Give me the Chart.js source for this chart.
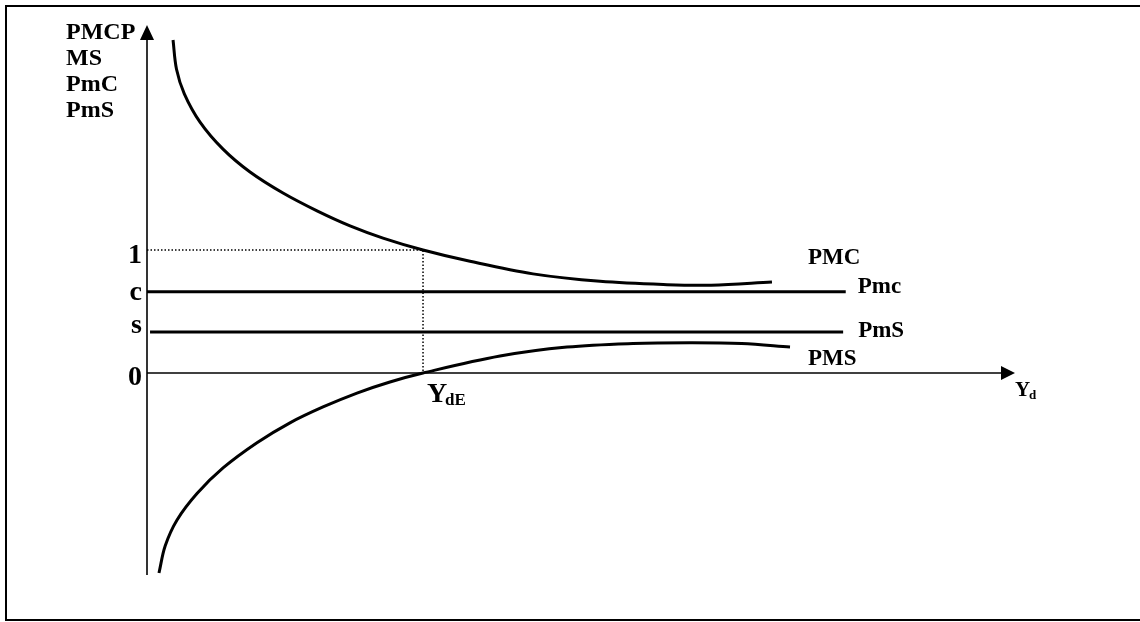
<!DOCTYPE html>
<html>
<head>
<meta charset="utf-8">
<script src="https://cdn.jsdelivr.net/npm/chart.js@4.4.1/dist/chart.umd.min.js"></script>
<style>
  html, body { margin: 0; padding: 0; background: #fff; }
  #wrap { width: 1140px; height: 622px; }
</style>
</head>
<body>
<div id="wrap"><canvas id="chart" width="1140" height="622"></canvas></div>
<script>
// values (x: disposable income, 0..100; y: propensity)
const pmcX = [3.0, 3.4, 4.3, 6.11, 8.76, 11.87, 15.67, 19.59, 23.39, 27.19, 31.8, 37.21, 44.47, 52.19, 59.91, 65.0, 72.0];
const pmcY = [2.707, 2.47, 2.27, 2.04, 1.82, 1.634, 1.463, 1.318, 1.196, 1.097, 1.0, 0.908, 0.806, 0.745, 0.718, 0.714, 0.740];

const pmsX = [1.38, 2.1, 3.46, 5.76, 8.76, 12.67, 16.47, 20.28, 24.19, 27.99, 31.8, 40.67, 48.39, 55.99, 62.5, 68.5, 74.08];
const pmsY = [-1.626, -1.405, -1.195, -0.98, -0.772, -0.567, -0.405, -0.276, -0.163, -0.073, 0, 0.138, 0.211, 0.240, 0.246, 0.240, 0.211];

const cValue = 0.66;       // Pmc
const sValue = 0.333;      // PmS
const pmcLineX = [0, 80.5];
const pmsLineX = [0.35, 80.2];
const ydE = 31.8;          // where PMC = 1 and PMS = 0

const yTickValues = [1, cValue, sValue, 0];
const yTickLabels = ['1', 'c', 's', '0'];
const yTitleLines = ['PMCP', 'MS', 'PmC', 'PmS'];

const xMin = 0, xMax = 100;
const yMax = 2.8293, yMin = -1.6423;

const toPoints = (xs, ys) => xs.map((x, i) => ({ x: x, y: ys[i] }));

const FONT = '"Liberation Serif", "Times New Roman", serif';

// frame, axes with arrow heads, and all the text
const drawingPlugin = {
    id: 'drawing',
    beforeDraw(chart) {
        const ctx = chart.ctx;
        ctx.save();
        ctx.fillStyle = '#fff';
        ctx.fillRect(0, 0, chart.width, chart.height);
        ctx.strokeStyle = '#000';
        ctx.lineWidth = 2;
        ctx.strokeRect(6, 6, chart.width + 4, chart.height - 8);
        ctx.restore();
    },
    beforeDatasetsDraw(chart) {
        const ctx = chart.ctx;
        const x = chart.scales.x, y = chart.scales.y;
        const x0 = x.getPixelForValue(0);
        const y0 = y.getPixelForValue(0);
        const top = y.getPixelForValue(yMax);
        const bottom = y.getPixelForValue(yMin);
        const right = x.getPixelForValue(xMax);

        ctx.save();
        ctx.strokeStyle = '#000';
        ctx.fillStyle = '#000';
        ctx.lineWidth = 1.6;

        // y axis
        ctx.beginPath();
        ctx.moveTo(x0, bottom);
        ctx.lineTo(x0, top + 12);
        ctx.stroke();
        ctx.beginPath();
        ctx.moveTo(x0, top);
        ctx.lineTo(x0 - 7, top + 15);
        ctx.lineTo(x0 + 7, top + 15);
        ctx.closePath();
        ctx.fill();

        // x axis
        ctx.beginPath();
        ctx.moveTo(x0, y0);
        ctx.lineTo(right - 12, y0);
        ctx.stroke();
        ctx.beginPath();
        ctx.moveTo(right, y0);
        ctx.lineTo(right - 14, y0 - 7);
        ctx.lineTo(right - 14, y0 + 7);
        ctx.closePath();
        ctx.fill();
        ctx.restore();
    },
    afterDraw(chart) {
        const ctx = chart.ctx;
        const x = chart.scales.x, y = chart.scales.y;
        const x0 = x.getPixelForValue(0);
        ctx.save();
        ctx.fillStyle = '#000';
        ctx.textBaseline = 'alphabetic';

        // axis title, top left
        ctx.font = 'bold 24px ' + FONT;
        ctx.textAlign = 'left';
        yTitleLines.forEach((t, i) => ctx.fillText(t, 66, 39 + i * 26));

        // y tick labels
        ctx.font = 'bold 28px ' + FONT;
        ctx.textAlign = 'right';
        const tickShift = [13, 8, 1, 12];
        yTickValues.forEach((v, i) => {
            ctx.fillText(yTickLabels[i], x0 - 5, y.getPixelForValue(v) + tickShift[i]);
        });

        // curve labels
        ctx.font = 'bold 23px ' + FONT;
        ctx.textAlign = 'left';
        const pmcEnd = x.getPixelForValue(pmcX[pmcX.length - 1]);
        const pmsEnd = x.getPixelForValue(pmsX[pmsX.length - 1]);
        ctx.fillText('PMC', pmcEnd + 36, y.getPixelForValue(1) + 14);
        ctx.fillText('Pmc', x.getPixelForValue(pmcLineX[1]) + 12, y.getPixelForValue(cValue) + 1);
        ctx.fillText('PmS', x.getPixelForValue(pmsLineX[1]) + 15, y.getPixelForValue(sValue) + 5);
        ctx.fillText('PMS', pmsEnd + 18, y.getPixelForValue(0) - 8);

        // Y_dE
        const ex = x.getPixelForValue(ydE);
        const ey = y.getPixelForValue(0);
        ctx.font = 'bold 28px ' + FONT;
        ctx.fillText('Y', ex + 4, ey + 29);
        ctx.font = 'bold 17px ' + FONT;
        ctx.fillText('dE', ex + 22, ey + 32);

        // Y_d
        const rx = x.getPixelForValue(xMax);
        ctx.font = 'bold 21px ' + FONT;
        ctx.fillText('Y', rx, ey + 23);
        ctx.font = 'bold 13px ' + FONT;
        ctx.fillText('d', rx + 14, ey + 26);
        ctx.restore();
    }
};

const line = (data, extra) => Object.assign({
    data: data,
    borderColor: '#000',
    borderWidth: 3,
    pointRadius: 0,
    fill: false,
    clip: false,
    showLine: true
}, extra || {});

new Chart(document.getElementById('chart').getContext('2d'), {
    type: 'scatter',
    data: {
        datasets: [
            line([{ x: 0, y: 1 }, { x: ydE, y: 1 }, { x: ydE, y: 0 }], { borderWidth: 1.5, borderDash: [1.5, 2] }),
            line(toPoints(pmcLineX, [cValue, cValue])),
            line(toPoints(pmsLineX, [sValue, sValue])),
            line(toPoints(pmcX, pmcY), { tension: 0.35 }),
            line(toPoints(pmsX, pmsY), { tension: 0.35 })
        ]
    },
    options: {
        responsive: false,
        devicePixelRatio: 1,
        animation: false,
        layout: { padding: { left: 147, right: 125, top: 25, bottom: 47 } },
        plugins: { legend: { display: false }, tooltip: { enabled: false } },
        scales: {
            x: { type: 'linear', min: xMin, max: xMax, display: false },
            y: { type: 'linear', min: yMin, max: yMax, display: false }
        }
    },
    plugins: [drawingPlugin]
});
</script>
</body>
</html>
